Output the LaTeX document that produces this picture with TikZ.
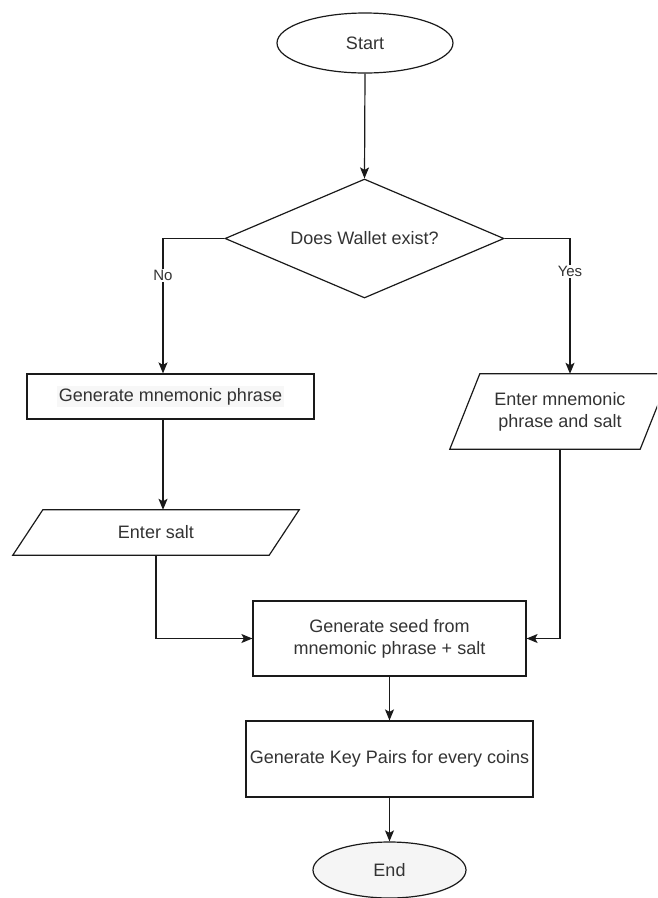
\documentclass[tikz,border=0pt]{standalone}
\usepackage{fontspec}
\setmainfont{Liberation Sans}
\usetikzlibrary{shapes.geometric,arrows.meta}
\definecolor{ink}{HTML}{333333}
\definecolor{edge}{HTML}{1A1A1A}
\setlength{\fboxsep}{2pt}
\begin{document}
\begin{tikzpicture}[x=1pt,y=-1pt,
  font=\fontsize{18}{22}\selectfont, text=ink,
  shape line/.style={draw=edge, line width=1.2pt},
  terminal/.style={shape line, ellipse, inner sep=0pt},
  process/.style={shape line, rectangle, inner sep=0pt, align=center},
  decision/.style={shape line, diamond, aspect=2.34, inner sep=0pt},
  ioslot/.style={rectangle, inner sep=0pt, align=center},
  flow/.style={draw=edge, line width=1.2pt, -{Stealth[length=11pt,width=9pt,inset=2.5pt]}},
  branch/.style={fill=white, inner sep=1.5pt, font=\fontsize{15}{18}\selectfont}
]
\useasboundingbox (0,0) rectangle (657,898);
\clip (0,0) rectangle (657,898);

% terminals, decision and process boxes
\node[terminal, minimum width=176pt, minimum height=60pt] (start) at (365,43) {Start};
\node[decision, minimum width=279pt, minimum height=119pt] (wallet) at (364.5,238.5) {Does Wallet exist?};
\node[process, minimum width=287pt, minimum height=45pt] (mnemonic) at (170.5,396.5)
  {\colorbox{black!3}{Generate mnemonic phrase}};

% input steps: text slot plus a slanted outline
\node[ioslot, minimum width=256pt, minimum height=45pt] (salt) at (156,532.5) {Enter salt};
\draw[shape line] ([xshift=15pt]salt.north west) -- ([xshift=15pt]salt.north east)
  -- ([xshift=-15pt]salt.south east) -- ([xshift=-15pt]salt.south west) -- cycle;

\node[ioslot, minimum width=190pt, minimum height=75pt] (phrase) at (560,411.5)
  {Enter mnemonic\\phrase and salt};
\draw[shape line] ([xshift=15pt]phrase.north west) -- ([xshift=15pt]phrase.north east)
  -- ([xshift=-15pt]phrase.south east) -- ([xshift=-15pt]phrase.south west) -- cycle;

\node[process, minimum width=273pt, minimum height=75pt] (seed) at (389.5,638.5)
  {Generate seed from\\mnemonic phrase + salt};
\node[process, minimum width=287pt, minimum height=76pt] (keys) at (389.5,759)
  {Generate Key Pairs for every coins};
\node[terminal, fill=black!4, minimum width=153pt, minimum height=56pt] (end) at (389.5,870) {End};

% connectors
\draw[flow] (start.south) -- (wallet.north);
\draw[flow] (wallet.west) -| ([xshift=-7.5pt]mnemonic.north)
  node[branch, pos=0.637] {No};
\draw[flow] (wallet.east) -| ([xshift=10pt]phrase.north)
  node[branch, pos=0.622] {Yes};
\draw[flow] ([xshift=-7.5pt]mnemonic.south) -- ([xshift=7pt]salt.north);
\draw[flow] (salt.south) |- (seed.west);
\draw[flow] (phrase.south) |- (seed.east);
\draw[flow] (seed.south) -- (keys.north);
\draw[flow] (keys.south) -- (end.north);
\end{tikzpicture}
\end{document}
